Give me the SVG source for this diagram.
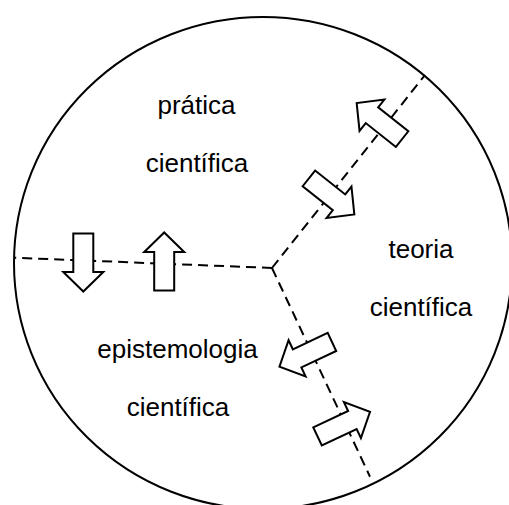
<svg xmlns="http://www.w3.org/2000/svg" width="509" height="505" viewBox="0 0 509 505">
<style>
.bg{fill:#ffffff}
.circ{fill:#ffffff;stroke:#000;stroke-width:2}
.dash{fill:none;stroke:#000;stroke-width:2;stroke-dasharray:10,6}
.arr{fill:#ffffff;stroke:#000;stroke-width:2;stroke-linejoin:miter}
.lbl{font-family:"Liberation Sans",Arial,sans-serif;font-size:26px;fill:#000;text-anchor:middle}
</style>
<defs>
<polygon id="blk" points="-29,-10 9.5,-10 9.5,-20 29,0 9.5,20 9.5,10 -29,10"/>
</defs>
<rect class="bg" x="0" y="0" width="509" height="505"/>
<g id="boundary">
<ellipse class="circ" cx="263" cy="263" rx="249" ry="246"/>
</g>
<g id="connectors">
<polyline class="dash" points="272,268 14,257.7"/>
<polyline class="dash" points="272,268 425,75"/>
<polyline class="dash" points="272,268 370,476.7"/>
</g>
<g id="arrows">
<use href="#blk" class="arr" transform="translate(83.3,262.5) rotate(90)"/>
<use href="#blk" class="arr" transform="translate(164.2,261.5) rotate(-90)"/>
<use href="#blk" class="arr" transform="translate(379.4,121.1) rotate(-141.6)"/>
<use href="#blk" class="arr" transform="translate(331.6,196.4) rotate(38.4)"/>
<use href="#blk" class="arr" transform="translate(305.7,354.3) rotate(154.8)"/>
<use href="#blk" class="arr" transform="translate(343.8,424.1) rotate(-25.2)"/>
</g>
<g id="pratica">
<text class="lbl" x="196.5" y="114">prática</text>
<text class="lbl" x="197" y="171.5">científica</text>
</g>
<g id="teoria">
<text class="lbl" x="421" y="258">teoria</text>
<text class="lbl" x="421" y="315.5">científica</text>
</g>
<g id="epistemologia">
<text class="lbl" x="177.5" y="358">epistemologia</text>
<text class="lbl" x="178" y="416">científica</text>
</g>
</svg>
